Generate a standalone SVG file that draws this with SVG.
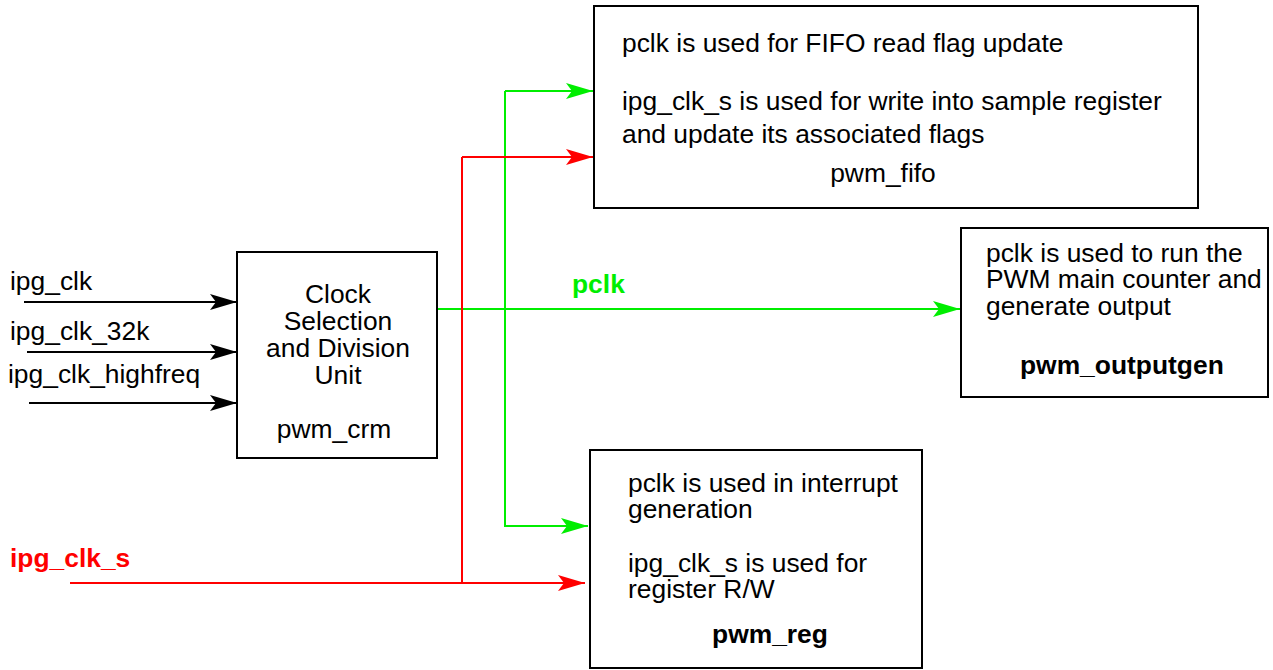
<svg xmlns="http://www.w3.org/2000/svg" width="1273" height="670" viewBox="0 0 1273 670">
<style>
.box{fill:#fff;stroke:#000;stroke-width:2}
.t{font-family:"Liberation Sans",Arial,sans-serif;font-size:26.4px;fill:#000}
.b{font-weight:bold}
.c{text-anchor:middle}
.k{stroke:#000;stroke-width:2;fill:none}
.g{stroke:#00ee00;stroke-width:2;fill:none}
.r{stroke:#ff0000;stroke-width:2;fill:none}
</style>
<defs>
<marker id="ak" markerUnits="userSpaceOnUse" markerWidth="28" markerHeight="18" refX="27" refY="9" orient="auto"><path d="M0,1 L27,9 L0,17 L6,9 Z" fill="#000"/></marker>
<marker id="ag" markerUnits="userSpaceOnUse" markerWidth="28" markerHeight="18" refX="27" refY="9" orient="auto"><path d="M0,1 L27,9 L0,17 L6,9 Z" fill="#00ee00"/></marker>
<marker id="ar" markerUnits="userSpaceOnUse" markerWidth="28" markerHeight="18" refX="27" refY="9" orient="auto"><path d="M0,1 L27,9 L0,17 L6,9 Z" fill="#ff0000"/></marker>
</defs>
<rect width="1273" height="670" fill="#fff"/>
<g id="connectors">
<line class="k" x1="24" y1="302" x2="237" y2="302" marker-end="url(#ak)"/>
<line class="k" x1="27" y1="352" x2="237" y2="352" marker-end="url(#ak)"/>
<line class="k" x1="29" y1="403" x2="237" y2="403" marker-end="url(#ak)"/>
<line class="g" x1="438" y1="309" x2="960" y2="309" marker-end="url(#ag)"/>
<polyline class="g" points="505,91 505,526 588,526" marker-end="url(#ag)"/>
<path class="g" d="M505,91 L593,91" marker-end="url(#ag)"/>
<polyline class="r" points="462,157 462,583"/>
<path class="r" d="M462,157 L593,157" marker-end="url(#ar)"/>
<line class="r" x1="70" y1="583" x2="585" y2="583" marker-end="url(#ar)"/>
<text class="t b" x="572" y="293" style="fill:#00ee00">pclk</text>
<text class="t b" x="10" y="567" style="fill:#ff0000">ipg_clk_s</text>
<text class="t" x="10" y="290">ipg_clk</text>
<text class="t" x="10" y="340">ipg_clk_32k</text>
<text class="t" x="8" y="383">ipg_clk_highfreq</text>
</g>
<g id="pwm_crm">
<rect class="box" x="237" y="252" width="200" height="206"/>
<text class="t c" x="338" y="303">Clock</text>
<text class="t c" x="338" y="330">Selection</text>
<text class="t c" x="338" y="357">and Division</text>
<text class="t c" x="338" y="384">Unit</text>
<text class="t c" x="334" y="438">pwm_crm</text>
</g>
<g id="pwm_fifo">
<rect class="box" x="594" y="6" width="604" height="202"/>
<text class="t" x="622" y="52">pclk is used for FIFO read flag update</text>
<text class="t" x="622" y="110">ipg_clk_s is used for write into sample register</text>
<text class="t" x="622" y="143">and update its associated flags</text>
<text class="t c" x="883" y="182">pwm_fifo</text>
</g>
<g id="pwm_outputgen">
<rect class="box" x="961" y="228" width="307" height="169"/>
<text class="t" x="986" y="262">pclk is used to run the</text>
<text class="t" x="986" y="288">PWM main counter and</text>
<text class="t" x="986" y="315">generate output</text>
<text class="t b" x="1020" y="374">pwm_outputgen</text>
</g>
<g id="pwm_reg">
<rect class="box" x="590" y="450" width="332" height="218"/>
<text class="t" x="628" y="492">pclk is used in interrupt</text>
<text class="t" x="628" y="518">generation</text>
<text class="t" x="628" y="572">ipg_clk_s is used for</text>
<text class="t" x="628" y="598">register R/W</text>
<text class="t b c" x="770" y="643">pwm_reg</text>
</g>
</svg>
